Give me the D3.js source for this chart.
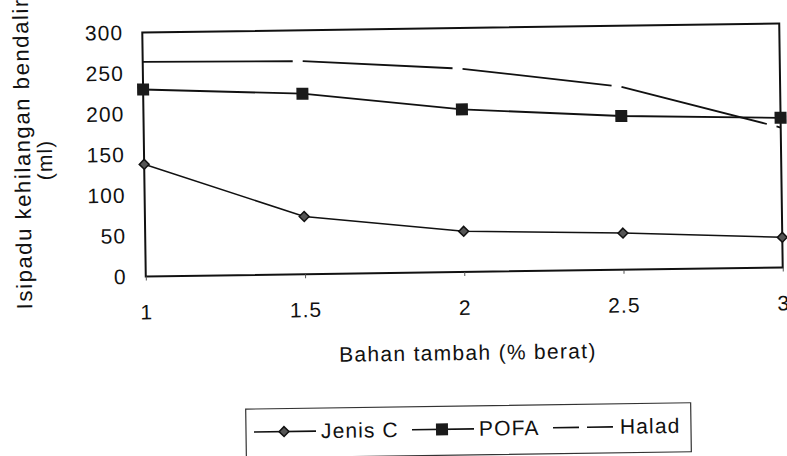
<!DOCTYPE html>
<html>
<head>
<meta charset="utf-8">
<script src="https://cdn.jsdelivr.net/npm/d3@7"></script>
<style>
  body { margin: 0; background: #fff; }
  text { font-family: "Liberation Sans", Arial, sans-serif; fill: #111; }
</style>
</head>
<body>
<div id="chart"></div>
<script>
// data
var xValues = [1, 1.5, 2, 2.5, 3];
var xTicks = ["1", "1.5", "2", "2.5", "3"];
var yTicks = [0, 50, 100, 150, 200, 250, 300];
var jenisC = [138, 71, 50, 45, 37];
var pofa = [230, 222, 200, 189, 184];
var halad = [264, 262, 250, 225, 172];

var W = 787, H = 456;
var plotL = 144, plotR = 781, plotT = 28, plotB = 272;
var fs = "21px", ls = "1.1px";

var svg = d3.select("#chart").append("svg")
  .attr("width", W)
  .attr("height", H);

// the scan is tilted a little
var g = svg.append("g").attr("transform", "rotate(-0.82, 462, 150)");

var x = d3.scaleLinear().domain([1, 3]).range([plotL, plotR]);
var y = d3.scaleLinear().domain([0, 300]).range([plotB, plotT]);

// frame
g.append("rect")
  .attr("x", plotL).attr("y", plotT)
  .attr("width", plotR - plotL).attr("height", plotB - plotT)
  .attr("fill", "none").attr("stroke", "#111").attr("stroke-width", 2);

// y labels
var yAxis = d3.axisLeft(y).tickValues(yTicks).tickSize(0).tickPadding(19);
var ya = g.append("g").attr("transform", "translate(" + plotL + ",0)").call(yAxis);
ya.select(".domain").remove();
ya.selectAll("text").style("font-size", fs).style("letter-spacing", ls)
  .style("font-family", "'Liberation Sans', Arial, sans-serif").attr("fill", "#111");

// x labels
var xAxis = d3.axisBottom(x).tickValues(xValues).tickFormat(function(d, i){ return xTicks[i]; }).tickSize(4).tickPadding(24);
var xa = g.append("g").attr("transform", "translate(0," + plotB + ")").call(xAxis);
xa.select(".domain").remove();
xa.selectAll("line").attr("stroke", "#555").attr("stroke-width", 1);
xa.selectAll("text").style("font-size", fs).style("letter-spacing", ls)
  .style("font-family", "'Liberation Sans', Arial, sans-serif").attr("fill", "#111");

var line = d3.line()
  .x(function(d, i){ return x(xValues[i]); })
  .y(function(d){ return y(d); });

g.append("path").datum(halad)
  .attr("d", line).attr("fill", "none")
  .attr("stroke", "#111").attr("stroke-width", 1.8)
  .attr("stroke-dasharray", "150,10");

g.append("path").datum(pofa)
  .attr("d", line).attr("fill", "none")
  .attr("stroke", "#111").attr("stroke-width", 1.8);

g.append("path").datum(jenisC)
  .attr("d", line).attr("fill", "none")
  .attr("stroke", "#111").attr("stroke-width", 1.5);

g.selectAll(".sq").data(pofa).enter().append("rect")
  .attr("x", function(d, i){ return x(xValues[i]) - 6; })
  .attr("y", function(d){ return y(d) - 6; })
  .attr("width", 12).attr("height", 12)
  .attr("fill", "#1a1a1a");

var diamond = d3.symbol().type(d3.symbolDiamond2).size(62);
g.selectAll(".dm").data(jenisC).enter().append("path")
  .attr("d", diamond)
  .attr("transform", function(d, i){ return "translate(" + x(xValues[i]) + "," + y(d) + ")"; })
  .attr("fill", "#555").attr("stroke", "#111").attr("stroke-width", 1.5);

// axis titles
g.append("text")
  .attr("transform", "translate(30,303) rotate(-90)")
  .attr("text-anchor", "start")
  .style("font-size", "22px").style("letter-spacing", "1.6px")
  .text("Isipadu kehilangan bendalir");
g.append("text")
  .attr("transform", "translate(52,154) rotate(-90)")
  .attr("text-anchor", "middle")
  .style("font-size", fs).style("letter-spacing", ls)
  .text("(ml)");

g.append("text")
  .attr("x", 465).attr("y", 360)
  .attr("text-anchor", "middle")
  .style("font-size", fs).style("letter-spacing", "1.3px")
  .text("Bahan tambah (% berat)");

// legend
var lg = g.append("g");
lg.append("rect")
  .attr("x", 242).attr("y", 406).attr("width", 445).attr("height", 49)
  .attr("fill", "none").attr("stroke", "#333").attr("stroke-width", 1.2);

var items = [
  {name: "Jenis C", mark: "diamond", x0: 250},
  {name: "POFA", mark: "square", x0: 408},
  {name: "Halad", mark: "dash", x0: 549}
];
var ly = 429;
items.forEach(function(it){
  var l = lg.append("line")
    .attr("x1", it.x0).attr("x2", it.x0 + 62)
    .attr("y1", ly).attr("y2", ly)
    .attr("stroke", "#111").attr("stroke-width", 1.6);
  if (it.mark == "dash") { l.attr("stroke-dasharray", "26,8"); }
  if (it.mark == "diamond") {
    lg.append("path").attr("d", diamond)
      .attr("transform", "translate(" + (it.x0 + 30) + "," + ly + ")")
      .attr("fill", "#555").attr("stroke", "#111").attr("stroke-width", 1.5);
  }
  if (it.mark == "square") {
    lg.append("rect").attr("x", it.x0 + 24).attr("y", ly - 6)
      .attr("width", 12).attr("height", 12).attr("fill", "#1a1a1a");
  }
  lg.append("text")
    .attr("x", it.x0 + 67).attr("y", ly + 7)
    .style("font-size", fs).style("letter-spacing", ls)
    .text(it.name);
});
</script>
</body>
</html>
